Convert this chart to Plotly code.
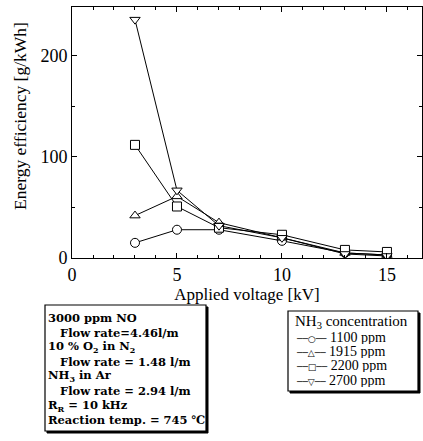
import plotly.graph_objects as go

voltage = [3, 5, 7, 10, 13, 15]
eff_1100 = [15, 28, 28, 17, 5, 3]
eff_1915 = [42, 61, 35, 20, 5, 3]
eff_2200 = [112, 51, 30, 23, 8, 6]
eff_2700 = [236, 67, 32, 20, 4, 2]
series_names = ["1100 ppm", "1915 ppm", "2200 ppm", "2700 ppm"]
series_vals = [eff_1100, eff_1915, eff_2200, eff_2700]
symbols = ["circle", "triangle-up", "square", "triangle-down"]
legend_glyphs = ["○", "△", "□", "▽"]
info_lines = [
    "3000 ppm NO",
    "&nbsp;&nbsp;&nbsp;Flow rate=4.46l/m",
    "10 % O<sub>2</sub> in N<sub>2</sub>",
    "&nbsp;&nbsp;&nbsp;Flow rate = 1.48 l/m",
    "NH<sub>3</sub> in Ar",
    "&nbsp;&nbsp;&nbsp;Flow rate = 2.94 l/m",
    "R<sub>R</sub> = 10 kHz",
    "Reaction temp. = 745 ℃",
]
legend_title = "NH<sub>3</sub> concentration"

serif = "Liberation Serif"
W, H = 423, 441
L, R, T, B = 72, 1, 7, 183
PW, PH = W - L - R, H - T - B


def px(x):
    return (x - L) / PW


def py(y):
    return (H - B - y) / PH


fig = go.Figure()
for name, vals, sym in zip(series_names, series_vals, symbols):
    fig.add_trace(go.Scatter(
        x=voltage, y=vals, name=name, mode="lines+markers",
        line=dict(color="black", width=1),
        marker=dict(symbol=sym, size=9, color="white", line=dict(color="black", width=1)),
    ))

axis_common = dict(showline=True, linecolor="black", linewidth=1, mirror="ticks",
                   ticks="inside", ticklen=5, tickcolor="black", showgrid=False,
                   zeroline=False, tickfont=dict(family=serif, size=18, color="black"))
fig.update_xaxes(range=[0, 16.67], tickvals=[0, 5, 10, 15],
                 minor=dict(dtick=1, ticks="inside", ticklen=3, tickcolor="black"),
                 title=dict(text="Applied voltage [kV]", font=dict(family=serif, size=17, color="black"), standoff=2),
                 **axis_common)
fig.update_yaxes(range=[0, 248.5], tickvals=[0, 100, 200],
                 minor=dict(dtick=50, ticks="inside", ticklen=3, tickcolor="black"),
                 **axis_common)

# y-axis title
fig.add_annotation(xref="paper", yref="paper", x=px(20), y=py(116), text="Energy efficiency [g/kWh]",
                   textangle=-90, showarrow=False, xanchor="center", yanchor="middle",
                   font=dict(family=serif, size=17.5, color="black"))


def box(x0, y0, x1, y1):
    # shadow
    fig.add_shape(type="rect", xref="paper", yref="paper", x0=px(x0 + 2), y0=py(y1 + 2), x1=px(x1 + 2), y1=py(y0 + 2),
                  line=dict(color="black", width=1), fillcolor="black")
    fig.add_shape(type="rect", xref="paper", yref="paper", x0=px(x0), y0=py(y1), x1=px(x1), y1=py(y0),
                  line=dict(color="black", width=1.2), fillcolor="white")


box(45, 305, 206, 431)
for i, t in enumerate(info_lines):
    fig.add_annotation(xref="paper", yref="paper", x=px(46), y=py(318 + 14.6 * i), text="<b>" + t + "</b>",
                       showarrow=False, xanchor="left", yanchor="middle", height=14, valign="middle",
                       font=dict(family="DejaVu Serif", size=11.5, color="black"))

box(288, 311, 418, 391)
fig.add_annotation(xref="paper", yref="paper", x=px(293), y=py(322), text=legend_title,
                   showarrow=False, xanchor="left", yanchor="middle", height=14,
                   font=dict(family=serif, size=15, color="black"))
for i, (g, n) in enumerate(zip(legend_glyphs, series_names)):
    txt = ('<span style="font-family:DejaVu Sans;font-size:9px">──' + g + '──</span> ' + n)
    fig.add_annotation(xref="paper", yref="paper", x=px(294), y=py(337 + 14.2 * i),
                       text=txt, showarrow=False, xanchor="left", yanchor="middle", height=14,
                       font=dict(family=serif, size=14, color="black"))

fig.update_layout(
    width=W, height=H,
    margin=dict(l=L, r=R, t=T, b=B, autoexpand=False),
    paper_bgcolor="white", plot_bgcolor="white",
    showlegend=False,
)
fig.write_html("out.html")
